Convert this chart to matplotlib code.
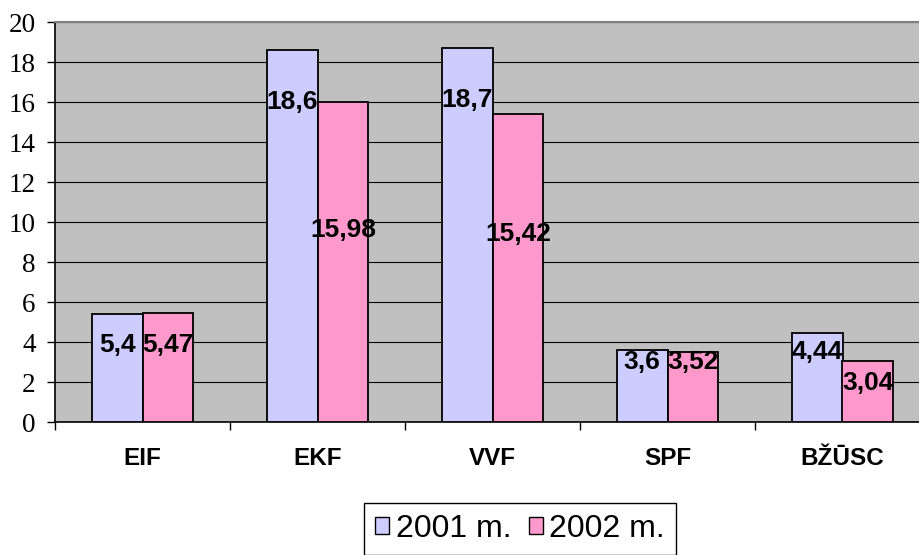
import matplotlib
matplotlib.use("Agg")
import matplotlib.pyplot as plt
from matplotlib.patches import Patch
import numpy as np

categories = ["EIF", "EKF", "VVF", "SPF", "BŽŪSC"]
series_names = ["2001 m.", "2002 m."]
values_2001 = [5.4, 18.6, 18.7, 3.6, 4.44]
values_2002 = [5.47, 15.98, 15.42, 3.52, 3.04]
labels_2001 = ["5,4", "18,6", "18,7", "3,6", "4,44"]
labels_2002 = ["5,47", "15,98", "15,42", "3,52", "3,04"]
# vertical positions of the value labels (data units), as placed in the reference
label_y_2001 = [3.85, 16.0, 16.1, 3.0, 3.5]
label_y_2002 = [3.85, 9.6, 9.4, 3.0, 1.95]
y_ticks = [0, 2, 4, 6, 8, 10, 12, 14, 16, 18, 20]

W, H = 920, 555
fig = plt.figure(figsize=(W / 100, H / 100), dpi=100)
ax = fig.add_axes([55 / W, (H - 422) / H, 875 / W, 400 / H])
ax.set_facecolor("#C0C0C0")

x = np.arange(len(categories))
bw = 0.29
colors = ["#CCCCFF", "#FF99CC"]
ax.bar(x - bw / 2, values_2001, bw, color=colors[0], edgecolor="black", linewidth=1.3, zorder=3)
ax.bar(x + bw / 2, values_2002, bw, color=colors[1], edgecolor="black", linewidth=1.3, zorder=3)

lab_font = dict(family="Liberation Sans", fontweight="bold", fontsize=19)
for xi, ly, t in zip(x - bw / 2, label_y_2001, labels_2001):
    ax.text(xi, ly, t, ha="center", va="center", zorder=5, **lab_font)
for xi, ly, t in zip(x + bw / 2, label_y_2002, labels_2002):
    ax.text(xi, ly, t, ha="center", va="center", zorder=5, **lab_font)

ax.set_xlim(-0.5, len(categories) - 0.5)
ax.set_ylim(0, 20)
ax.set_yticks(y_ticks)
ax.yaxis.grid(True, color="black", linewidth=0.8, zorder=1)
ax.set_axisbelow(True)

ax.set_xticks(np.arange(-0.5, len(categories), 1.0))
ax.set_xticklabels([])
ax.set_xticks(x, minor=True)
ax.set_xticklabels(categories, minor=True, family="Liberation Sans",
                   fontweight="bold", fontsize=17.5)
ax.tick_params(axis="x", which="major", direction="out", length=6, width=1, color="black")
ax.tick_params(axis="x", which="minor", length=0, pad=18)
ax.tick_params(axis="y", direction="out", length=6, width=1, pad=8, labelsize=19.5)
for lab in ax.get_yticklabels():
    lab.set_family("Liberation Serif")

for s in ["left", "bottom"]:
    ax.spines[s].set_color("black")
    ax.spines[s].set_linewidth(1.2)
ax.spines["top"].set_color("#808080")
ax.spines["top"].set_linewidth(1.5)
ax.spines["right"].set_visible(False)

handles = [Patch(facecolor=c, edgecolor="black", linewidth=1) for c in colors]
leg = fig.legend(handles, series_names, loc="upper center",
                 bbox_to_anchor=(520 / W, 1 - 503 / H), ncol=2, frameon=True,
                 fancybox=False, edgecolor="black", framealpha=1,
                 prop=dict(family="Liberation Sans", size=23),
                 handlelength=0.45, handleheight=0.45, handletextpad=0.2,
                 columnspacing=0.55, borderpad=0.35, borderaxespad=0)
leg.get_frame().set_linewidth(1)

fig.savefig("out.png", dpi=100)
